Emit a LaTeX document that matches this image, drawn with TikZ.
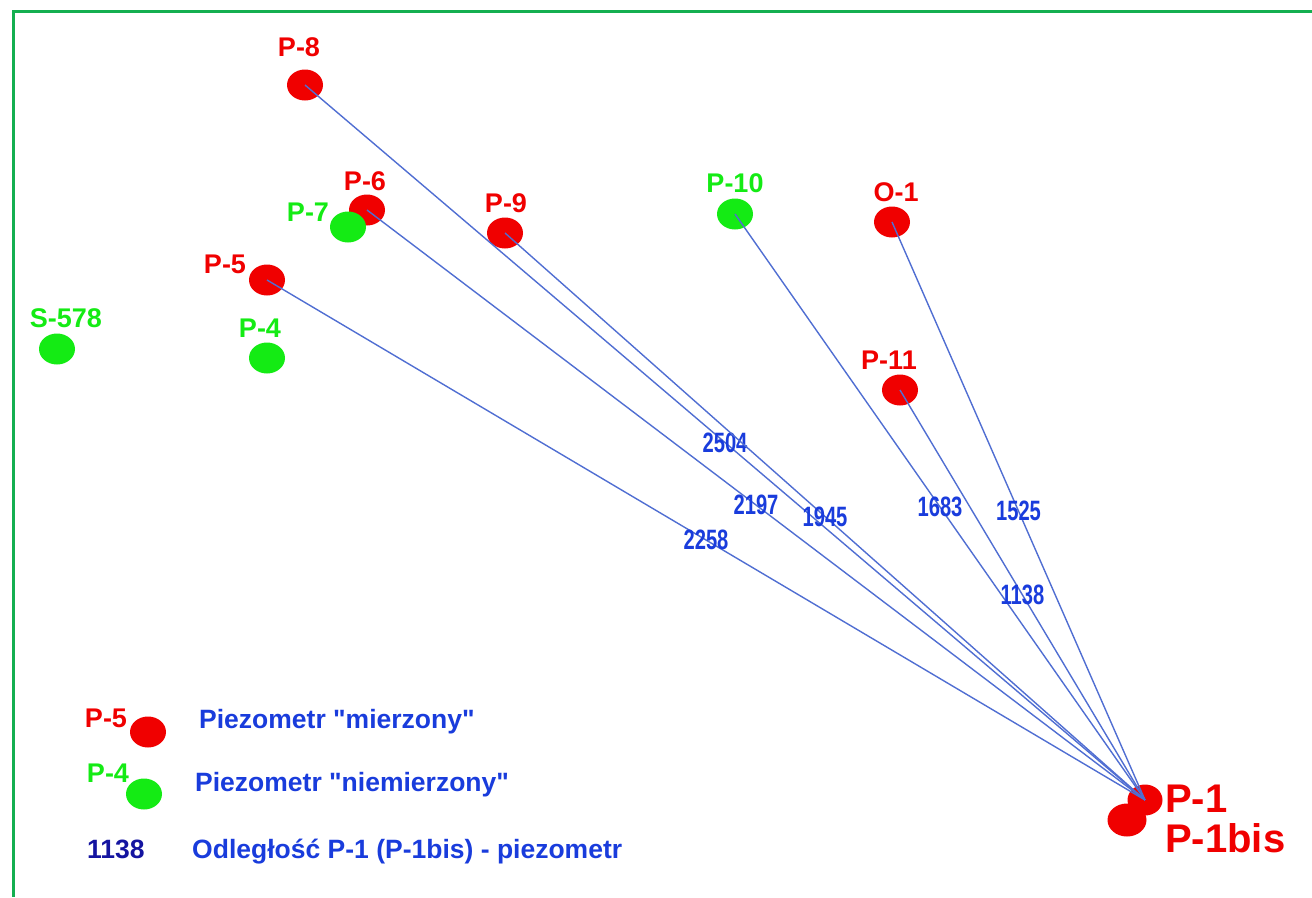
\documentclass[tikz,border=0pt]{standalone}
\usepackage{fontspec}
\setmainfont{Liberation Sans}
\newfontfamily\narrowfont[FakeStretch=0.72]{Liberation Sans}
\newfontfamily\keyfont{Liberation Sans}
\usepackage{xcolor}
\usepackage{tikz}
\usetikzlibrary{shapes.geometric, positioning}

\definecolor{wellred}{RGB}{240,0,0}
\definecolor{wellgreen}{RGB}{20,235,20}
\definecolor{linkblue}{RGB}{80,110,210}
\definecolor{textblue}{RGB}{25,60,220}
\definecolor{keynavy}{RGB}{20,20,160}
\definecolor{framegreen}{RGB}{20,175,80}

\begin{document}
\begin{tikzpicture}[
    x=1pt, y=-1pt,
    well/.style={ellipse, inner sep=0pt, minimum width=36pt, minimum height=31pt},
    redwell/.style={well, fill=wellred},
    greenwell/.style={well, fill=wellgreen},
    redname/.style={inner sep=0pt, text=wellred, font=\fontsize{27}{27}\selectfont\bfseries},
    greenname/.style={redname, text=wellgreen},
    bigname/.style={anchor=base west, inner sep=0pt, text=wellred, font=\fontsize{40}{40}\selectfont\bfseries},
    link/.style={draw=linkblue, line width=1.4pt},
    dist/.style={midway, inner sep=0pt, text=textblue, font=\narrowfont\fontsize{28}{28}\selectfont\bfseries},
    keytext/.style={anchor=base west, inner sep=0pt, text=textblue, font=\keyfont\fontsize{26.5}{26.5}\selectfont\bfseries}
]
\useasboundingbox (0,0) rectangle (1312,897);

% Frame
\draw[framegreen, line width=3pt] (1312,11) -- (13,11) -- (13,897);

% Piezometers
\node[redwell] (p8) at (305,85) {};
\node[redwell] (p6) at (367,210) {};
\node[greenwell] (p7) at (348,227) {};
\node[redwell] (p9) at (505,233) {};
\node[greenwell] (p10) at (735,214) {};
\node[redwell] (o1) at (892,222) {};
\node[redwell] (p5) at (267,280) {};
\node[greenwell] (s578) at (57,349) {};
\node[greenwell] (p4) at (267,358) {};
\node[redwell] (p11) at (900,390) {};
\node[redwell, minimum width=39pt, minimum height=33pt] (p1bis) at (1127,820) {};
\node[redwell, minimum width=35pt] (p1) at (1145,800) {};

% Names
\node[redname] (p8name) at (299,47) {P-8};
\node[redname] (p6name) at (365,181) {P-6};
\node[greenname] (p7name) at (308,212) {P-7};
\node[redname] (p9name) at (506,203) {P-9};
\node[greenname] (p10name) at (735,183) {P-10};
\node[redname] (o1name) at (896,192) {O-1};
\node[redname] (p5name) at (225,264) {P-5};
\node[greenname] (s578name) at (66,318) {S-578};
\node[greenname] (p4name) at (260,328) {P-4};
\node[redname] (p11name) at (889,360) {P-11};
\node[bigname] (p1name) at (1165,812) {P-1};
\node[bigname] (p1bisname) at (1165,852) {P-1bis};

% Distances to P-1
\draw[link] (p8.center) -- node[dist] {2504} (p1.center);
\draw[link] (p6.center) -- node[dist] {2197} (p1.center);
\draw[link] (p9.center) -- node[dist] {1945} (p1.center);
\draw[link] (p5.center) -- node[dist] {2258} (p1.center);
\draw[link] (p10.center) -- node[dist] {1683} (p1.center);
\draw[link] (o1.center) -- node[dist] {1525} (p1.center);
\draw[link] (p11.center) -- node[dist] {1138} (p1.center);

% Legend
\node[redname] (keyredname) at (106,718) {P-5};
\node[redwell] (keyred) at (148,732) {};
\node[keytext] (keyredtext) at (199,728) {Piezometr "mierzony"};
\node[greenname] (keygreenname) at (108,773) {P-4};
\node[greenwell] (keygreen) at (144,794) {};
\node[keytext] (keygreentext) at (195,791) {Piezometr "niemierzony"};
\node[keytext, text=keynavy] (keydist) at (87,858) {1138};
\node[keytext] (keydisttext) at (192,858) {Odległość P-1 (P-1bis) - piezometr};

\end{tikzpicture}
\end{document}
